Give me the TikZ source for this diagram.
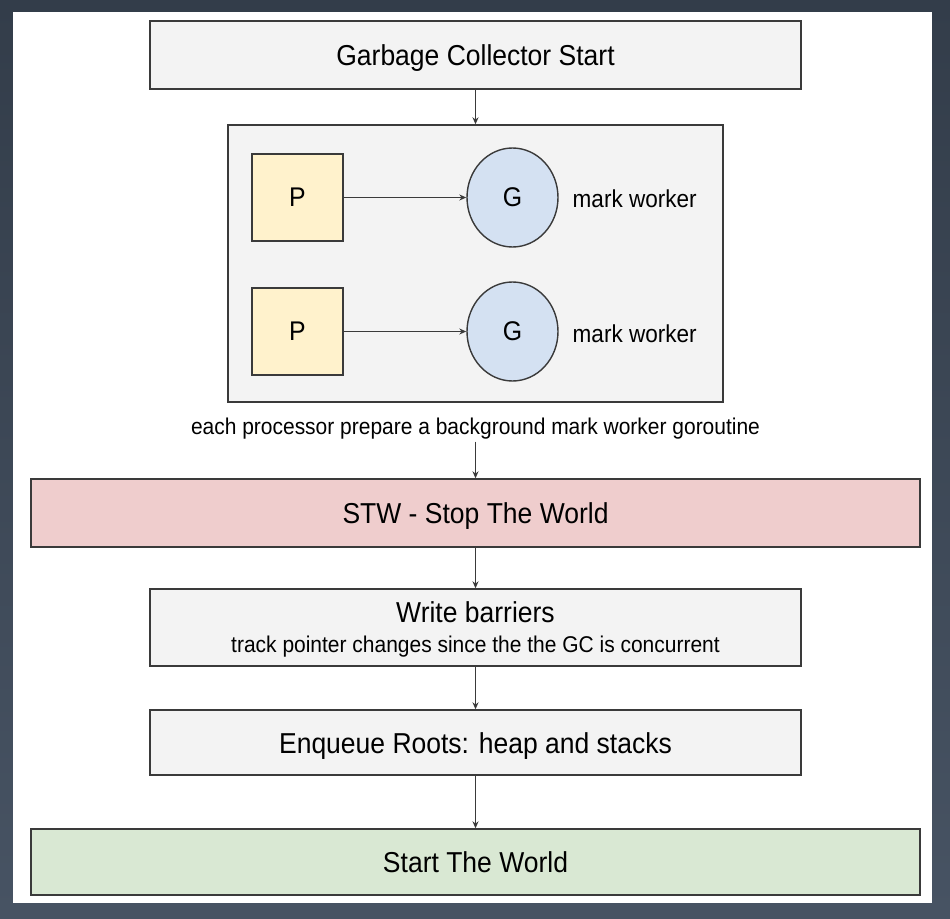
\documentclass[tikz,border=0pt]{standalone}
\usepackage{fontspec}
\setmainfont{Liberation Sans}[FakeStretch = 0.92]
\usetikzlibrary{arrows.meta, shapes}

\definecolor{stepgray}{HTML}{F3F3F3}
\definecolor{procyellow}{HTML}{FFF2CC}
\definecolor{goblue}{HTML}{D4E1F2}
\definecolor{stwred}{HTML}{EFCDCD}
\definecolor{stwgreen}{HTML}{D9E8D3}
\definecolor{edgegray}{HTML}{3A3A3A}
\definecolor{frametop}{HTML}{333D4A}
\definecolor{framebot}{HTML}{475363}

\begin{document}
\begin{tikzpicture}[
		x = 1pt, y = -1pt,
		every node/.style = {draw = edgegray, line width = 1.4pt, inner sep = 0pt, text = black},
		stepbox/.style = {rectangle, fill = stepgray, minimum height = 68pt, text height = 21pt, text depth = 0pt, font = \fontsize{28.8}{32}\selectfont},
		narrow/.style = {minimum width = 651pt},
		wide/.style = {minimum width = 889pt},
		proc/.style = {rectangle, fill = procyellow, minimum width = 91pt, minimum height = 87pt, font = \fontsize{27}{30}\selectfont},
		gor/.style = {ellipse, fill = goblue, minimum width = 91pt, minimum height = 99pt, font = \fontsize{27}{30}\selectfont},
		link/.style = {draw = edgegray, line width = 1.3pt, -{Stealth[length = 7pt, width = 6pt]}}
		]
		% frame and page
		\shade [top color = frametop, bottom color = framebot] (0,0) rectangle (950,918);
		\fill [white] (13,12) rectangle (932,903);
		\useasboundingbox (0,0) rectangle (950,918);
		
		\node [stepbox, narrow] (Start) at (475.5,55) {Garbage Collector Start};
		
		% processors and their mark workers
		\node [rectangle, fill = stepgray, minimum width = 495pt, minimum height = 277pt] (Workers) at (475.5,263.5) {};
		\node [proc] (P1) at (297.5,197.5) {P};
		\node [gor]  (G1) at (512.5,197.5) {G};
		\node [proc] (P2) at (297.5,331.5) {P};
		\node [gor]  (G2) at (512.5,331.5) {G};
		\begin{scope}[nodes = {draw = none, font = \fontsize{24.5}{28}\selectfont}]
			\node [anchor = west] (M1) at (572,199) {mark worker};
			\node [anchor = west] (M2) at (572,334) {mark worker};
			\node [font = \fontsize{22.8}{26}\selectfont, minimum height = 24pt] (Note) at (475.5,429) {each processor prepare a background mark worker goroutine};
		\end{scope}
		
		\node [stepbox, wide, fill = stwred] (STW) at (475.5,513) {STW - Stop The World};
		\node [stepbox, narrow, minimum height = 77pt, text height =, text depth = 0pt, align = center] (WB) at (475.5,627.5)
			{Write barriers\\[-2pt]{\fontsize{22.8}{26}\selectfont track pointer changes since the the GC is concurrent}};
		\node [stepbox, narrow, minimum height = 65pt] (Roots) at (475.5,742.5) {Enqueue Roots: heap and stacks};
		\node [stepbox, wide, fill = stwgreen, minimum height = 66pt] (End) at (475.5,862) {Start The World};
		
		% connectors
		\draw [link] (Start) -- (Workers);
		\draw [link] (P1) -- (G1);
		\draw [link] (P2) -- (G2);
		\draw [link] (Note) -- (STW);
		\draw [link] (STW) -- (WB);
		\draw [link] (WB) -- (Roots);
		\draw [link] (Roots) -- (End);
	\end{tikzpicture}
\end{document}
